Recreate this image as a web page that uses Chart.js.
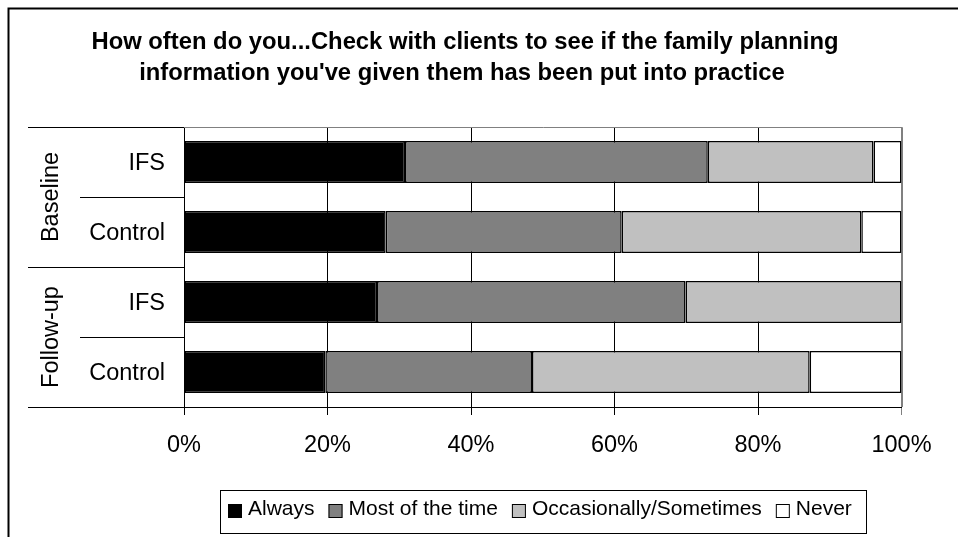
<!DOCTYPE html>
<html>
<head>
<meta charset="utf-8">
<script src="https://cdn.jsdelivr.net/npm/chart.js@4/dist/chart.umd.min.js"></script>
<style>
  html, body { margin: 0; padding: 0; background: #fff; }
  canvas { display: block; }
</style>
</head>
<body>
<canvas id="grafico" width="958" height="537"></canvas>
<script>
const FONTE = '"Liberation Sans", Arial, sans-serif';

const titulo = [
  "How often do you...Check with clients to see if the family planning",
  "information you've given them has been put into practice"
];

// two-level category axis: period groups and the arm inside each group
const grupos = ["Baseline", "Follow-up"];
const grupoDe = [0, 0, 1, 1];
const categorias = ["IFS", "Control", "IFS", "Control"];

// percentages per answer
const always = [30.8, 28.1, 26.9, 19.7];
const mostOfTheTime = [42.2, 32.9, 43.0, 28.8];
const occasionally = [23.1, 33.4, 30.1, 38.7];
const never = [3.9, 5.6, 0, 12.8];

const respostas = ["Always", "Most of the time", "Occasionally/Sometimes", "Never"];
const cores = ["#000000", "#808080", "#c0c0c0", "#ffffff"];

function serie(i, valores) {
  return {
    label: respostas[i],
    data: valores,
    backgroundColor: cores[i],
    borderColor: "#000000",
    borderWidth: 1.5,
    borderSkipped: false,
    barPercentage: 0.6,
    categoryPercentage: 1
  };
}

// frame, title, top/right plot border
const fundo = {
  id: "fundo",
  beforeDraw(chart) {
    const ctx = chart.ctx;
    ctx.save();
    ctx.fillStyle = "#fff";
    ctx.fillRect(0, 0, chart.width, chart.height);
    ctx.strokeStyle = "#000";
    ctx.lineWidth = 2;
    ctx.beginPath();
    ctx.moveTo(8.5, chart.height + 5);
    ctx.lineTo(8.5, 8.5);
    ctx.lineTo(chart.width + 5, 8.5);
    ctx.stroke();

    ctx.fillStyle = "#000";
    ctx.font = "bold 23.8px " + FONTE;
    ctx.textAlign = "center";
    ctx.textBaseline = "alphabetic";
    ctx.fillText(titulo[0], 465, 48.5);
    ctx.fillText(titulo[1], 462, 80);
    ctx.restore();
  },
  afterDatasetsDraw(chart) {
    const { ctx, chartArea: a } = chart;
    ctx.save();
    ctx.strokeStyle = "#808080";
    ctx.lineWidth = 1;
    ctx.beginPath();
    ctx.moveTo(a.left, Math.round(a.top) + 0.5);
    ctx.lineTo(Math.round(a.right) + 0.5, Math.round(a.top) + 0.5);
    ctx.lineTo(Math.round(a.right) + 0.5, a.bottom);
    ctx.stroke();
    ctx.restore();
  }
};

// category labels, group labels and their separator lines
const eixoY = {
  id: "eixoY",
  afterDraw(chart) {
    const { ctx, chartArea: a } = chart;
    const y = chart.scales.y;
    const passo = y.getPixelForValue(1) - y.getPixelForValue(0);
    ctx.save();
    ctx.fillStyle = "#000";
    ctx.font = "23.5px " + FONTE;
    ctx.textAlign = "right";
    ctx.textBaseline = "alphabetic";
    const capMeia = 23.5 * 0.716 / 2;
    categorias.forEach((c, i) => {
      ctx.fillText(c, 165, y.getPixelForValue(i) + capMeia);
    });

    ctx.strokeStyle = "#000";
    ctx.lineWidth = 1;
    for (let i = 0; i <= categorias.length; i++) {
      const py = Math.round(y.getPixelForValue(i) - passo / 2) + 0.5;
      const borda = i === 0 || i === categorias.length || grupoDe[i] !== grupoDe[i - 1];
      ctx.beginPath();
      ctx.moveTo(borda ? 28 : 80, py);
      ctx.lineTo(a.left, py);
      ctx.stroke();
    }

    grupos.forEach((g, gi) => {
      const idx = grupoDe.map((v, i) => v === gi ? i : -1).filter(i => i >= 0);
      const meio = (y.getPixelForValue(idx[0]) + y.getPixelForValue(idx[idx.length - 1])) / 2;
      ctx.save();
      ctx.translate(58, meio);
      ctx.rotate(-Math.PI / 2);
      ctx.textAlign = "center";
      ctx.fillText(g, 0, 0);
      ctx.restore();
    });
    ctx.restore();
  }
};

// boxed legend under the axis
const legenda = {
  id: "legenda",
  afterDraw(chart) {
    const { ctx, chartArea: a } = chart;
    ctx.save();
    ctx.font = "21px " + FONTE;
    const itens = chart.data.datasets.map(ds => ({
      label: ds.label, cor: ds.backgroundColor, w: ctx.measureText(ds.label).width
    }));
    const lado = 14, gapTexto = 6, gapItem = 14;
    const total = itens.reduce((s, it) => s + lado + gapTexto + it.w, 0) + gapItem * (itens.length - 1);
    const caixaW = Math.round(total + 22);
    const caixaL = Math.round((a.left + a.right) / 2 - caixaW / 2) + 0.5;
    ctx.strokeStyle = "#000";
    ctx.lineWidth = 1;
    ctx.strokeRect(caixaL, 490.5, caixaW, 43);
    let x = caixaL + 7.5;
    ctx.textBaseline = "alphabetic";
    ctx.textAlign = "left";
    itens.forEach(it => {
      ctx.fillStyle = it.cor;
      ctx.fillRect(x, 504, lado, lado);
      ctx.strokeRect(x + 0.5, 504.5, lado - 1, lado - 1);
      ctx.fillStyle = "#000";
      ctx.fillText(it.label, x + lado + gapTexto, 515);
      x += lado + gapTexto + it.w + gapItem;
    });
    ctx.restore();
  }
};

new Chart(document.getElementById("grafico"), {
  type: "bar",
  data: {
    labels: categorias,
    datasets: [
      serie(0, always),
      serie(1, mostOfTheTime),
      serie(2, occasionally),
      serie(3, never)
    ]
  },
  options: {
    indexAxis: "y",
    responsive: false,
    animation: false,
    devicePixelRatio: 1,
    layout: { padding: { left: 184, right: 56.5, top: 127, bottom: 0 } },
    plugins: {
      legend: { display: false },
      title: { display: false },
      tooltip: { enabled: false }
    },
    scales: {
      x: {
        stacked: true,
        min: 0,
        max: 100,
        ticks: {
          stepSize: 20,
          padding: 16,
          color: "#000",
          font: { family: FONTE, size: 23.5 },
          callback: v => v + "%"
        },
        grid: {
          color: ctx => ctx.tick && ctx.tick.value === 100 ? "#808080" : "#000",
          lineWidth: 1,
          tickLength: 8
        },
        border: { display: true, color: "#000", width: 1 },
        afterFit: s => { s.height = 130; }
      },
      y: {
        stacked: true,
        ticks: { display: false },
        grid: { display: false },
        border: { display: true, color: "#000", width: 1 },
        afterFit: s => { s.width = 0; }
      }
    }
  },
  plugins: [fundo, eixoY, legenda]
});
</script>
</body>
</html>
